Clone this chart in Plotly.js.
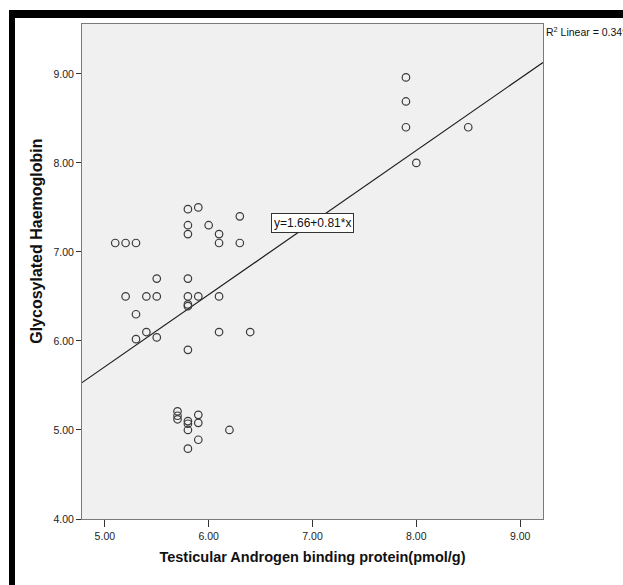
<!DOCTYPE html>
<html>
<head>
<meta charset="utf-8">
<script src="https://cdn.plot.ly/plotly-3.0.1.min.js"></script>
<style>
  html, body { margin: 0; padding: 0; background: #ffffff; }
  #chart { position: absolute; left: 0; top: 0; width: 623px; height: 585px; }
  #frameTop { position: absolute; left: 9px; top: 10px; width: 614px; height: 8px; background: #000; pointer-events: none; }
  #frameLeft { position: absolute; left: 9px; top: 10px; width: 6px; height: 575px; background: #000; pointer-events: none; }
</style>
</head>
<body>
<div id="chart"></div>
<div id="frameTop"></div>
<div id="frameLeft"></div>
<script>
// Testicular Androgen binding protein (pmol/g)
const tabp = [5.1, 5.2, 5.3, 5.2, 5.3, 5.3, 5.4, 5.4, 5.5, 5.5, 5.5,
              5.8, 5.8, 5.8, 5.9, 6.0, 6.1, 6.1, 6.3, 6.3,
              5.8, 5.8, 5.8, 5.8, 5.9, 6.1, 6.1, 6.4, 5.8,
              5.7, 5.7, 5.7, 5.8, 5.8, 5.8, 5.9, 5.9, 5.9, 5.8, 6.2,
              7.9, 7.9, 7.9, 8.5, 8.0];
// Glycosylated Haemoglobin
const hba1c = [7.1, 7.1, 7.1, 6.5, 6.3, 6.02, 6.5, 6.1, 6.7, 6.5, 6.04,
               7.48, 7.3, 7.2, 7.5, 7.3, 7.2, 7.1, 7.4, 7.1,
               6.7, 6.5, 6.41, 6.39, 6.5, 6.5, 6.1, 6.1, 5.9,
               5.21, 5.16, 5.12, 5.1, 5.07, 5.0, 5.17, 5.08, 4.89, 4.79, 5.0,
               8.96, 8.69, 8.4, 8.4, 8.0];

const fitIntercept = 1.66;
const fitSlope = 0.81;
const rSquared = "0.349";

const xRange = [4.78, 9.22];
const yRange = [4.0, 9.56];
const xTicks = [5, 6, 7, 8, 9];
const yTicks = [4, 5, 6, 7, 8, 9];
const xTickLabels = ["5.00", "6.00", "7.00", "8.00", "9.00"];
const yTickLabels = ["4.00", "5.00", "6.00", "7.00", "8.00", "9.00"];

const fitX = [xRange[0], xRange[1]];
const fitY = fitX.map(v => fitIntercept + fitSlope * v);

const font = "Arial, 'Liberation Sans', sans-serif";

const traces = [
  {
    x: fitX, y: fitY, type: "scatter", mode: "lines",
    line: { color: "#1a1a1a", width: 1.2 },
    hoverinfo: "skip", showlegend: false
  },
  {
    x: tabp, y: hba1c, type: "scatter", mode: "markers",
    marker: { symbol: "circle-open", size: 7.5, color: "#3a3a3a", line: { width: 1.2, color: "#3a3a3a" } },
    showlegend: false
  }
];

const layout = {
  width: 623, height: 585,
  margin: { l: 82, r: 80, t: 24, b: 66 },
  paper_bgcolor: "rgba(0,0,0,0)",
  plot_bgcolor: "#f0f0f0",
  font: { family: font, color: "#222" },
  xaxis: {
    range: xRange, tickvals: xTicks, ticktext: xTickLabels,
    showgrid: false, zeroline: false,
    showline: true, linecolor: "#7a7a7a", linewidth: 1, mirror: true,
    ticks: "outside", ticklen: 7, tickcolor: "#333", tickwidth: 1,
    tickfont: { family: font, size: 10.5, color: "#222" },
    title: { text: "Testicular Androgen binding protein(pmol/g)", font: { family: font, size: 14.5, color: "#111", weight: "bold" }, standoff: 11 }
  },
  yaxis: {
    range: yRange, tickvals: yTicks, ticktext: yTickLabels,
    showgrid: false, zeroline: false,
    showline: true, linecolor: "#7a7a7a", linewidth: 1, mirror: true,
    ticks: "outside", ticklen: 5, tickcolor: "#333", tickwidth: 1,
    tickfont: { family: font, size: 10.5, color: "#222" }
  },
  annotations: [
    {
      x: 7.0, y: 7.33, xref: "x", yref: "y",
      text: "y=1.66+0.81*x", showarrow: false,
      font: { family: font, size: 12, color: "#111" },
      bgcolor: "#ffffff", bordercolor: "#333", borderwidth: 1, borderpad: 2
    },
    {
      x: 1.003, y: 0.984, xref: "paper", yref: "paper", xanchor: "left", yanchor: "middle",
      text: "R<sup>2</sup> Linear = " + rSquared, showarrow: false,
      font: { family: font, size: 10.5, color: "#111" }
    },
    {
      x: -0.0976, y: 0.56, xref: "paper", yref: "paper", xanchor: "center", yanchor: "middle",
      text: "Glycosylated Haemoglobin", textangle: -90, showarrow: false,
      font: { family: font, size: 16, color: "#111", weight: "bold" }
    }
  ]
};

Plotly.newPlot("chart", traces, layout, { staticPlot: true, displayModeBar: false });
</script>
</body>
</html>
